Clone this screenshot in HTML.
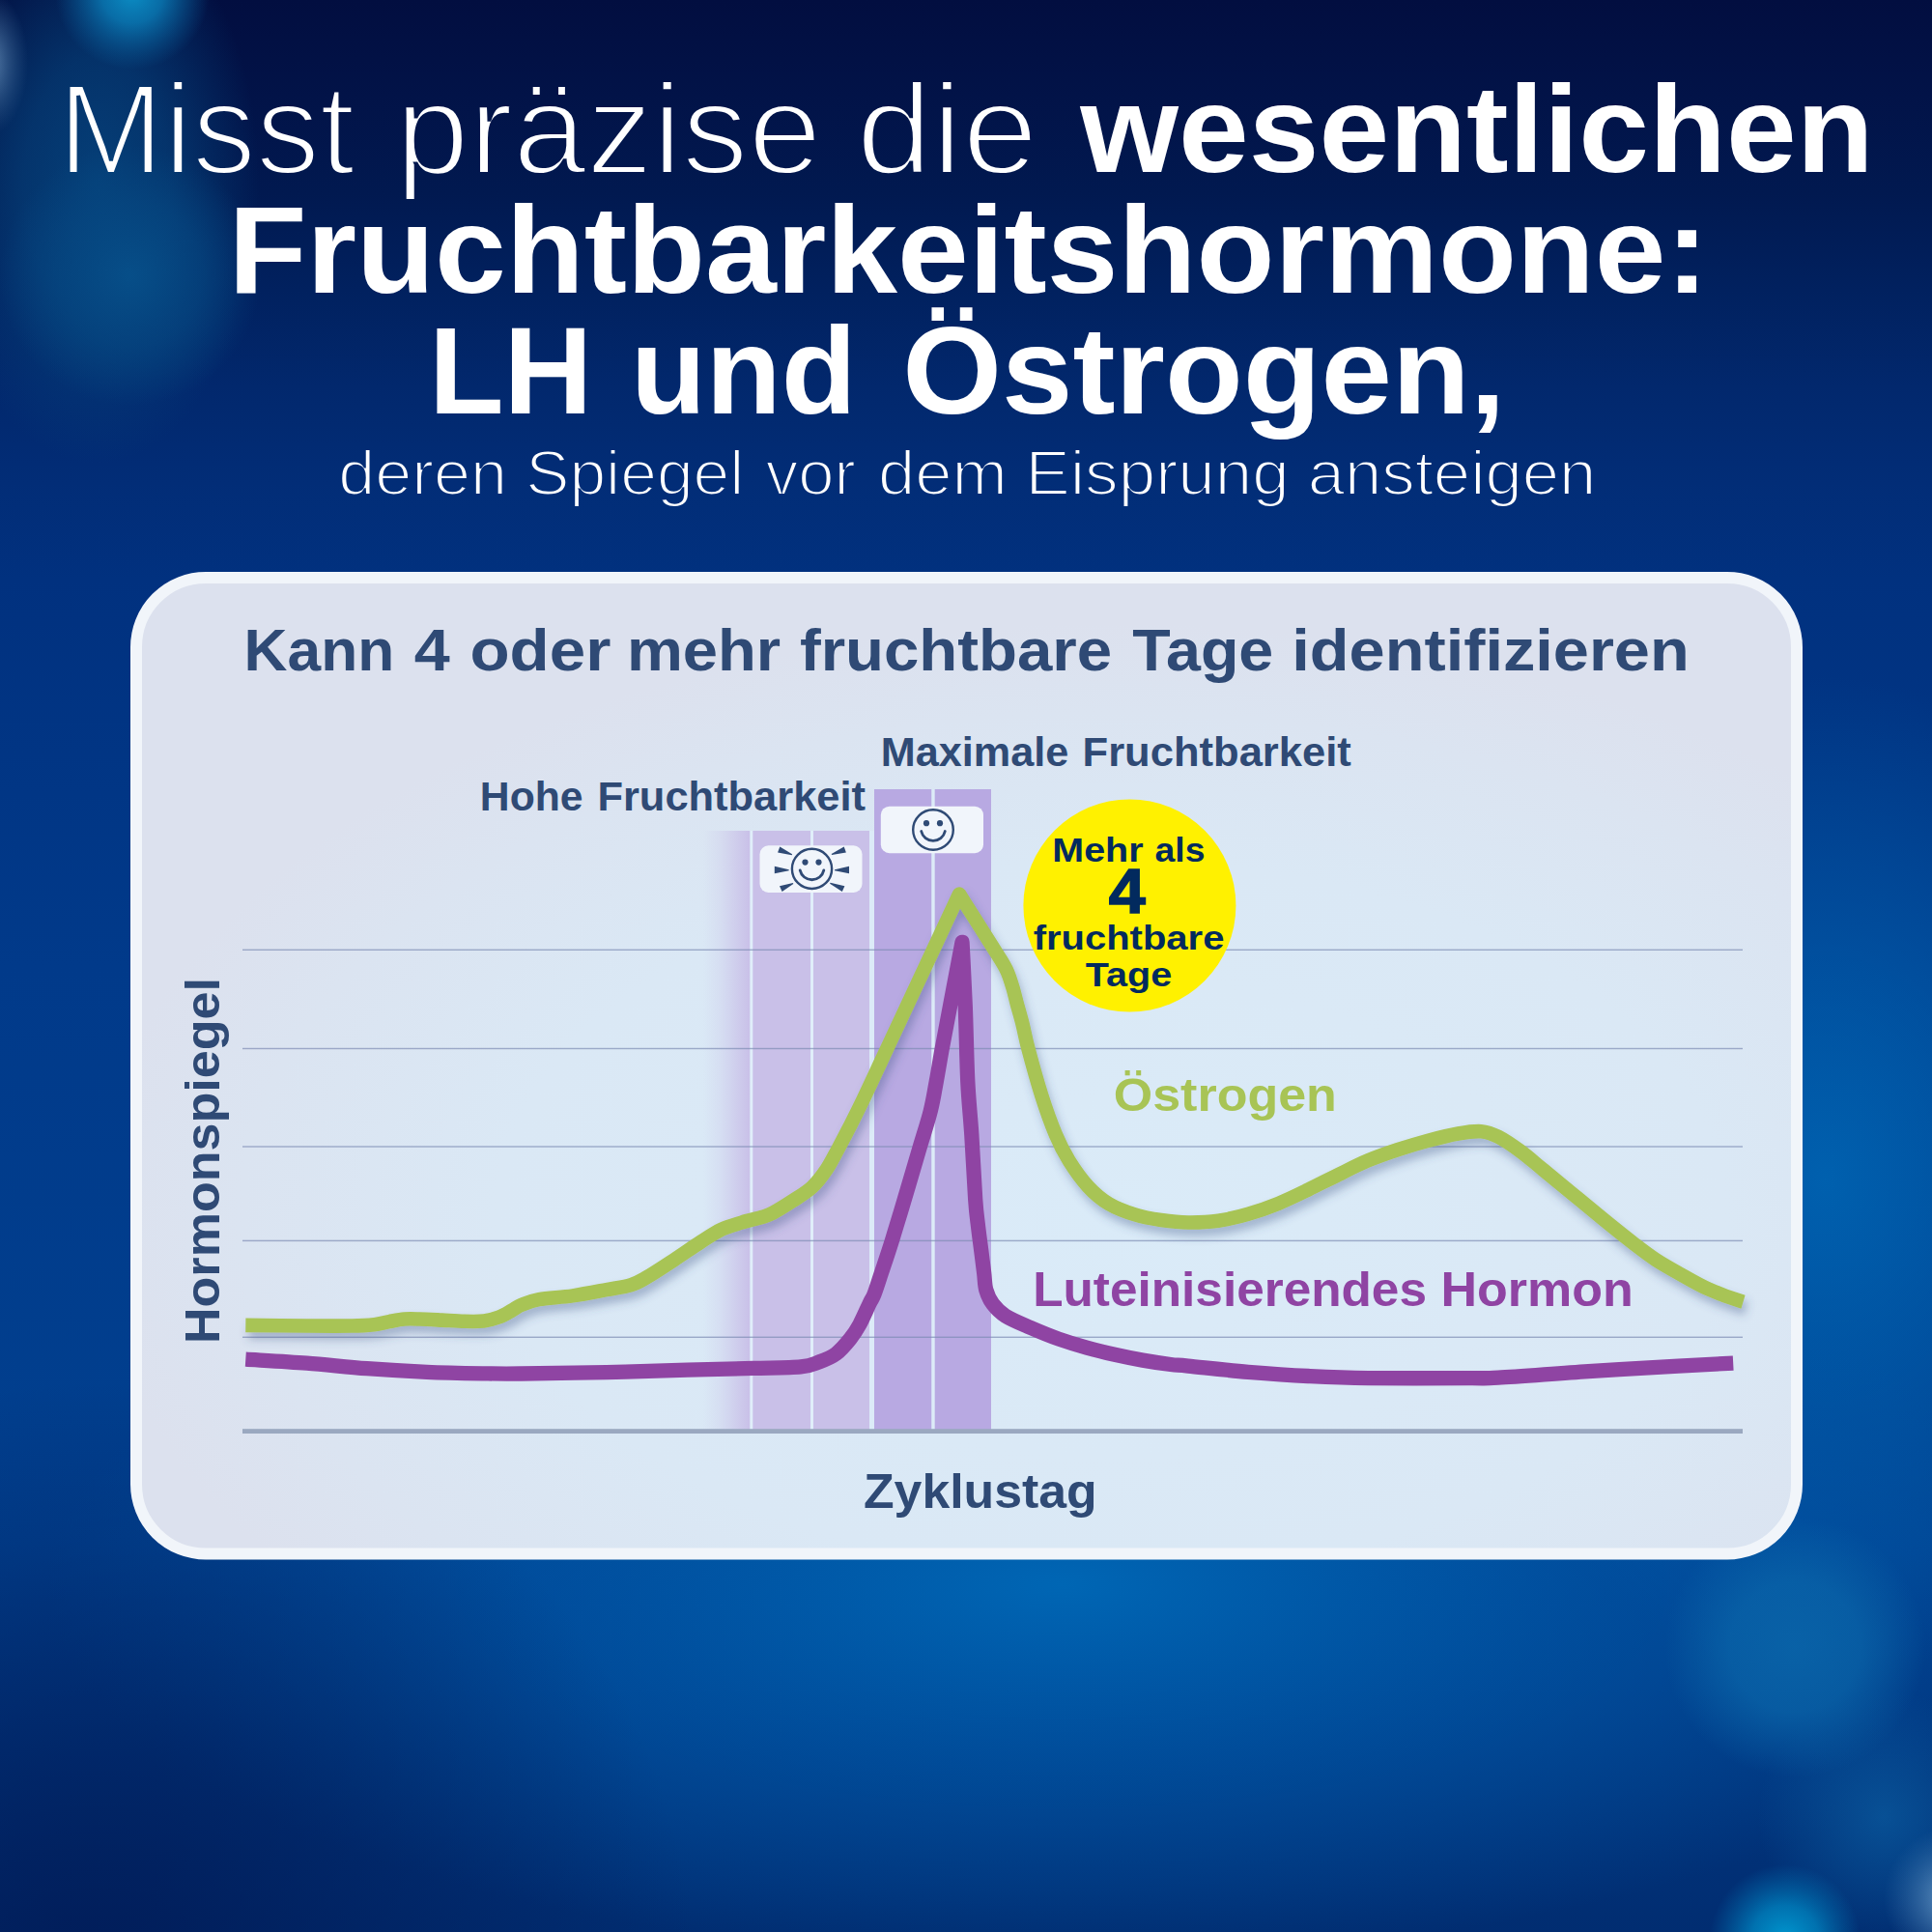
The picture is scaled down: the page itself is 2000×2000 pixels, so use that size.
<!DOCTYPE html>
<html lang="de"><head><meta charset="utf-8"><title>Fruchtbarkeitshormone</title>
<style>
html,body{margin:0;padding:0;width:2000px;height:2000px;overflow:hidden;background:#02256d;}
svg{display:block;font-family:"Liberation Sans",sans-serif;}
</style></head><body>
<svg width="2000" height="2000" viewBox="0 0 2000 2000">
<defs>

<linearGradient id="bgv" x1="0" y1="0" x2="0" y2="1">
 <stop offset="0" stop-color="#020e40"/>
 <stop offset="0.05" stop-color="#021348"/>
 <stop offset="0.10" stop-color="#011950"/>
 <stop offset="0.15" stop-color="#01215f"/>
 <stop offset="0.20" stop-color="#02286d"/>
 <stop offset="0.25" stop-color="#022d77"/>
 <stop offset="0.30" stop-color="#01317f"/>
 <stop offset="0.50" stop-color="#013a8a"/>
 <stop offset="0.80" stop-color="#01408f"/>
 <stop offset="1" stop-color="#012d71"/>
</linearGradient>
<radialGradient id="glow1" cx="1100" cy="1640" r="1050" gradientUnits="userSpaceOnUse" gradientTransform="translate(0,1640) scale(1,0.37) translate(0,-1640)">
 <stop offset="0" stop-color="#0066b4" stop-opacity="1"/>
 <stop offset="0.5" stop-color="#0058a8" stop-opacity="0.62"/>
 <stop offset="1" stop-color="#0058a8" stop-opacity="0"/>
</radialGradient>
<radialGradient id="darkbl" cx="100" cy="2050" r="620" gradientUnits="userSpaceOnUse">
 <stop offset="0" stop-color="#011a55" stop-opacity="0.85"/>
 <stop offset="1" stop-color="#011a55" stop-opacity="0"/>
</radialGradient>
<radialGradient id="rightglow" cx="1890" cy="1220" r="520" gradientUnits="userSpaceOnUse" gradientTransform="translate(1890,0) scale(0.75,1) translate(-1890,0)">
 <stop offset="0" stop-color="#0064b2" stop-opacity="0.9"/>
 <stop offset="1" stop-color="#0064b2" stop-opacity="0"/>
</radialGradient>
<radialGradient id="bk1" cx="137" cy="-8" r="80" gradientUnits="userSpaceOnUse">
 <stop offset="0" stop-color="#0b8fc6" stop-opacity="1"/>
 <stop offset="0.4" stop-color="#0a7fba" stop-opacity="0.8"/>
 <stop offset="1" stop-color="#0a6aa8" stop-opacity="0"/>
</radialGradient>
<radialGradient id="bk2" cx="135" cy="285" r="135" gradientUnits="userSpaceOnUse">
 <stop offset="0" stop-color="#07528c" stop-opacity="0.85"/>
 <stop offset="0.55" stop-color="#064a84" stop-opacity="0.6"/>
 <stop offset="1" stop-color="#064a84" stop-opacity="0"/>
</radialGradient>
<radialGradient id="bk2b" cx="100" cy="190" r="290" gradientUnits="userSpaceOnUse" gradientTransform="translate(100,0) scale(0.58,1) translate(-100,0)">
 <stop offset="0" stop-color="#06467f" stop-opacity="0.85"/>
 <stop offset="0.45" stop-color="#06467f" stop-opacity="0.62"/>
 <stop offset="1" stop-color="#06467f" stop-opacity="0"/>
</radialGradient>
<radialGradient id="bk3" cx="-12" cy="65" r="75" gradientUnits="userSpaceOnUse" gradientTransform="translate(-12,0) scale(0.55,1) translate(12,0)">
 <stop offset="0" stop-color="#6a92bc" stop-opacity="0.9"/>
 <stop offset="1" stop-color="#3a6a9a" stop-opacity="0"/>
</radialGradient>
<radialGradient id="bk4" cx="1858" cy="1705" r="135" gradientUnits="userSpaceOnUse">
 <stop offset="0" stop-color="#0a66aa" stop-opacity="0.85"/>
 <stop offset="0.5" stop-color="#0a66aa" stop-opacity="0.7"/>
 <stop offset="1" stop-color="#0a66aa" stop-opacity="0"/>
</radialGradient>
<radialGradient id="bk5" cx="1848" cy="2008" r="78" gradientUnits="userSpaceOnUse">
 <stop offset="0" stop-color="#0098d0" stop-opacity="1"/>
 <stop offset="0.45" stop-color="#0088c4" stop-opacity="0.75"/>
 <stop offset="1" stop-color="#0078b8" stop-opacity="0"/>
</radialGradient>
<radialGradient id="bk6" cx="2025" cy="1965" r="75" gradientUnits="userSpaceOnUse">
 <stop offset="0" stop-color="#7aa8d0" stop-opacity="0.95"/>
 <stop offset="1" stop-color="#3a78b0" stop-opacity="0"/>
</radialGradient>
<radialGradient id="bk7" cx="1950" cy="1880" r="130" gradientUnits="userSpaceOnUse">
 <stop offset="0" stop-color="#0a5a9e" stop-opacity="0.75"/>
 <stop offset="1" stop-color="#0a5a9e" stop-opacity="0"/>
</radialGradient>
<radialGradient id="cardg" cx="1150" cy="1260" r="1060" gradientUnits="userSpaceOnUse" gradientTransform="translate(0,1260) scale(1,0.58) translate(0,-1260)">
 <stop offset="0" stop-color="#daebf8"/>
 <stop offset="0.6" stop-color="#dae8f5"/>
 <stop offset="0.85" stop-color="#dbe4f1"/>
 <stop offset="1" stop-color="#dce1ee"/>
</radialGradient>
<linearGradient id="fade" x1="0" y1="0" x2="1" y2="0">
 <stop offset="0" stop-color="#c9c0e8" stop-opacity="0"/>
 <stop offset="0.35" stop-color="#c9c0e8" stop-opacity="0.25"/>
 <stop offset="1" stop-color="#c9c0e8" stop-opacity="1"/>
</linearGradient>
<filter id="sh" x="-5%" y="-10%" width="110%" height="125%">
 <feGaussianBlur in="SourceAlpha" stdDeviation="5"/>
 <feOffset dx="3" dy="7" result="b"/>
 <feFlood flood-color="#3d5384" flood-opacity="0.36"/>
 <feComposite in2="b" operator="in"/>
 <feMerge><feMergeNode/><feMergeNode in="SourceGraphic"/></feMerge>
</filter>
<mask id="thin1" maskUnits="userSpaceOnUse" x="0" y="0" width="2000" height="600">
 <text transform="translate(59.79,180.0) scale(0.9866,1)" font-size="133.7" font-weight="normal" fill="#fff" stroke="#000" stroke-width="4.0" vector-effect="non-scaling-stroke">Misst</text>
 <text transform="translate(409.45,180.0) scale(1.0234,1)" font-size="133.7" font-weight="normal" fill="#fff" stroke="#000" stroke-width="4.0" vector-effect="non-scaling-stroke">präzise</text>
 <text transform="translate(886.60,180.0) scale(1.0526,1)" font-size="133.7" font-weight="normal" fill="#fff" stroke="#000" stroke-width="4.0" vector-effect="non-scaling-stroke">die</text>
</mask>
<mask id="thin2" maskUnits="userSpaceOnUse" x="0" y="0" width="2000" height="600">
 <text transform="translate(350.36,511.8) scale(1.0545,1)" font-size="64.8" font-weight="normal" fill="#fff" stroke="#000" stroke-width="2.2" vector-effect="non-scaling-stroke">deren</text>
 <text transform="translate(544.18,511.8) scale(1.0464,1)" font-size="64.8" font-weight="normal" fill="#fff" stroke="#000" stroke-width="2.2" vector-effect="non-scaling-stroke">Spiegel</text>
 <text transform="translate(792.70,511.8) scale(1.0334,1)" font-size="64.8" font-weight="normal" fill="#fff" stroke="#000" stroke-width="2.2" vector-effect="non-scaling-stroke">vor</text>
 <text transform="translate(908.95,511.8) scale(1.0607,1)" font-size="64.8" font-weight="normal" fill="#fff" stroke="#000" stroke-width="2.2" vector-effect="non-scaling-stroke">dem</text>
 <text transform="translate(1061.59,511.8) scale(1.0678,1)" font-size="64.8" font-weight="normal" fill="#fff" stroke="#000" stroke-width="2.2" vector-effect="non-scaling-stroke">Eisprung</text>
 <text transform="translate(1353.65,511.8) scale(1.0633,1)" font-size="64.8" font-weight="normal" fill="#fff" stroke="#000" stroke-width="2.2" vector-effect="non-scaling-stroke">ansteigen</text>
</mask>

</defs>

<rect width="2000" height="2000" fill="url(#bgv)"/>
<rect width="2000" height="2000" fill="url(#rightglow)"/>
<rect width="2000" height="2000" fill="url(#glow1)"/>
<rect width="2000" height="2000" fill="url(#darkbl)"/>
<rect width="2000" height="2000" fill="url(#bk2b)"/>
<rect width="2000" height="2000" fill="url(#bk2)"/>
<rect width="2000" height="2000" fill="url(#bk1)"/>
<rect width="2000" height="2000" fill="url(#bk3)"/>
<rect width="2000" height="2000" fill="url(#bk7)"/>
<rect width="2000" height="2000" fill="url(#bk4)"/>
<rect width="2000" height="2000" fill="url(#bk5)"/>
<rect width="2000" height="2000" fill="url(#bk6)"/>


<rect x="0" y="0" width="2000" height="600" fill="#fff" mask="url(#thin1)"/>
<text transform="translate(1118.34,177.8) scale(1.0193,1)" font-size="128.3" font-weight="bold" fill="#fff">wesentlichen</text>
<text transform="translate(236.51,302.6) scale(1.0334,1)" font-size="128.3" font-weight="bold" fill="#fff">Fruchtbarkeitshormone:</text>
<text transform="translate(443.96,427.8) scale(0.9906,1)" font-size="128.3" font-weight="bold" fill="#fff">LH</text>
<text transform="translate(653.03,427.8) scale(0.9932,1)" font-size="128.3" font-weight="bold" fill="#fff">und</text>
<text transform="translate(934.27,427.8) scale(1.0302,1)" font-size="128.3" font-weight="bold" fill="#fff">Östrogen,</text>
<rect x="0" y="0" width="2000" height="600" fill="#fff" mask="url(#thin2)"/>


<rect x="141" y="598" width="1719" height="1010.5" rx="72" ry="72" fill="url(#cardg)" stroke="#f1f5fa" stroke-width="12"/>
<text transform="translate(252.61,694.3) scale(1.0203,1)" font-size="61.0" font-weight="bold" fill="#2f4a75">Kann</text>
<text transform="translate(428.80,694.3) scale(1.0900,1)" font-size="61.0" font-weight="bold" fill="#2f4a75">4</text>
<text transform="translate(486.50,694.3) scale(1.1034,1)" font-size="61.0" font-weight="bold" fill="#2f4a75">oder</text>
<text transform="translate(648.93,694.3) scale(1.0679,1)" font-size="61.0" font-weight="bold" fill="#2f4a75">mehr</text>
<text transform="translate(827.88,694.3) scale(1.0716,1)" font-size="61.0" font-weight="bold" fill="#2f4a75">fruchtbare</text>
<text transform="translate(1172.30,694.3) scale(1.0592,1)" font-size="61.0" font-weight="bold" fill="#2f4a75">Tage</text>
<text transform="translate(1337.33,694.3) scale(1.0935,1)" font-size="61.0" font-weight="bold" fill="#2f4a75">identifizieren</text>

<rect x="728" y="860" width="48.5" height="620" fill="url(#fade)"/><rect x="776.5" y="860" width="2.8" height="620" fill="#e0eefa"/><rect x="779.3" y="860" width="59.7" height="620" fill="#c9c0e8"/><rect x="839" y="860" width="3" height="620" fill="#e0eefa"/><rect x="842" y="860" width="58" height="620" fill="#c9c0e8"/><rect x="900" y="860" width="5" height="620" fill="#dcebf8"/><rect x="905" y="817" width="59.5" height="663" fill="#b8a9e2"/><rect x="964.5" y="817" width="3.2" height="663" fill="#dcebf8"/><rect x="967.7" y="817" width="58.3" height="663" fill="#b8a9e2"/><rect x="251" y="982.5999999999999" width="1553" height="1.4" fill="#7c8bb3" opacity="0.68"/><rect x="251" y="1084.8" width="1553" height="1.4" fill="#7c8bb3" opacity="0.68"/><rect x="251" y="1186.3" width="1553" height="1.4" fill="#7c8bb3" opacity="0.68"/><rect x="251" y="1283.7" width="1553" height="1.4" fill="#7c8bb3" opacity="0.68"/><rect x="251" y="1383.6" width="1553" height="1.4" fill="#7c8bb3" opacity="0.68"/><rect x="251" y="1479.2" width="1553" height="4.8" fill="#9aa8c0"/><rect x="786.5" y="875.3" width="106" height="48.7" rx="9" fill="#f1f5fb"/><rect x="911.8" y="834.7" width="106.2" height="48.5" rx="9" fill="#f1f5fb"/><g fill="none" stroke="#2f4a75" stroke-width="2.4" stroke-linecap="round"><circle cx="840.5" cy="899.4" r="20.6"/><path d="M828.2,900.9 A12.6,12.6 0 0 0 852.8,900.9" stroke-width="2.8"/></g><circle cx="833.5" cy="892.6" r="3.1" fill="#2f4a75"/><circle cx="847.5" cy="892.6" r="3.1" fill="#2f4a75"/><path d="M820.1,884.3 L807.3,876.6 L805.1,882.4 L819.7,885.3 Z" fill="#2f4a75"/><path d="M816.7,900.2 L801.8,896.8 L801.8,904.2 L816.7,901.2 Z" fill="#2f4a75"/><path d="M820.9,913.9 L807.0,917.3 L809.6,923.1 L821.3,914.9 Z" fill="#2f4a75"/><path d="M861.1,885.1 L875.9,882.4 L873.7,876.6 L860.7,884.1 Z" fill="#2f4a75"/><path d="M864.0,901.2 L879.0,904.2 L879.0,896.8 L864.0,900.2 Z" fill="#2f4a75"/><path d="M859.1,914.7 L871.8,923.1 L874.4,917.3 L859.5,913.7 Z" fill="#2f4a75"/><g fill="none" stroke="#2f4a75" stroke-width="2.4" stroke-linecap="round"><circle cx="966" cy="859" r="20.8"/><path d="M953.7,860.5 A12.6,12.6 0 0 0 978.3,860.5" stroke-width="2.8"/></g><circle cx="959" cy="852.2" r="3.1" fill="#2f4a75"/><circle cx="973" cy="852.2" r="3.1" fill="#2f4a75"/><text transform="translate(496.83,838.8) scale(1.0273,1)" font-size="41.6" font-weight="bold" fill="#2f4a75">Hohe</text><text transform="translate(618.38,838.8) scale(1.0451,1)" font-size="41.6" font-weight="bold" fill="#2f4a75">Fruchtbarkeit</text><text transform="translate(911.80,793.2) scale(1.0388,1)" font-size="41.6" font-weight="bold" fill="#2f4a75">Maximale</text><text transform="translate(1120.58,793.2) scale(1.0470,1)" font-size="41.6" font-weight="bold" fill="#2f4a75">Fruchtbarkeit</text><g filter="url(#sh)"><path d="M254.3,1371.9 C264.9,1372.0 299.3,1372.4 317.6,1372.5 C335.9,1372.6 352.6,1372.7 364.2,1372.5 C375.8,1372.3 381.0,1371.9 387.5,1371.2 C394.0,1370.5 397.8,1369.0 403.0,1368.1 C408.2,1367.1 413.4,1365.9 418.6,1365.5 C423.8,1365.1 427.6,1365.3 434.1,1365.5 C440.6,1365.7 449.6,1366.2 457.4,1366.6 C465.2,1367.0 473.4,1367.6 480.7,1367.8 C487.9,1368.0 494.9,1368.2 500.9,1367.5 C506.8,1366.8 511.5,1365.3 516.4,1363.5 C521.2,1361.7 526.1,1358.6 530.0,1356.5 C533.9,1354.4 535.3,1352.7 540.0,1350.8 C544.7,1348.9 549.2,1346.7 558.0,1345.1 C566.8,1343.5 581.3,1343.1 592.9,1341.4 C604.5,1339.7 617.8,1337.0 627.8,1335.1 C637.8,1333.2 646.0,1332.3 653.0,1330.2 C660.0,1328.1 662.2,1326.5 669.7,1322.2 C677.2,1317.9 688.4,1310.4 697.7,1304.3 C707.0,1298.2 717.6,1290.7 725.7,1285.5 C733.9,1280.3 739.6,1276.2 746.6,1272.9 C753.6,1269.6 760.6,1267.8 767.6,1265.6 C774.6,1263.4 783.1,1261.7 788.5,1260.0 C793.9,1258.3 794.9,1258.3 800.2,1255.5 C805.5,1252.7 813.7,1247.6 820.4,1243.2 C827.1,1238.8 834.8,1234.4 840.6,1229.0 C846.4,1223.6 850.9,1217.5 855.4,1210.9 C859.9,1204.3 863.2,1197.2 867.5,1189.4 C871.8,1181.6 876.4,1172.5 880.9,1163.8 C885.4,1155.0 889.9,1145.9 894.2,1136.9 C898.5,1127.9 902.6,1119.0 906.8,1110.0 C911.0,1101.0 913.9,1094.7 919.4,1083.0 C924.9,1071.3 931.7,1056.6 939.5,1040.0 C947.3,1023.4 957.1,1002.4 966.0,983.3 C974.9,964.2 984.0,944.8 993.0,925.5 C998.7,934.5 1004.7,943.9 1010.0,952.4 C1015.3,960.9 1020.7,969.3 1025.0,976.2 C1029.3,983.1 1033.0,988.6 1036.0,993.6 C1039.0,998.6 1041.0,1001.8 1043.0,1006.5 C1045.0,1011.2 1046.6,1016.4 1048.3,1022.0 C1050.0,1027.6 1051.3,1033.7 1053.0,1040.0 C1054.7,1046.3 1056.6,1052.4 1058.5,1060.0 C1060.4,1067.6 1061.2,1073.4 1064.5,1085.8 C1067.8,1098.2 1073.6,1119.4 1078.3,1134.2 C1083.0,1149.0 1088.2,1163.4 1092.9,1174.6 C1097.6,1185.8 1101.0,1192.5 1106.6,1201.5 C1112.2,1210.5 1119.6,1221.0 1126.5,1228.4 C1133.4,1235.9 1139.9,1241.4 1148.0,1246.2 C1156.1,1251.0 1166.0,1254.6 1175.0,1257.4 C1184.0,1260.2 1192.7,1261.7 1201.9,1263.0 C1211.1,1264.3 1220.1,1265.4 1230.0,1265.5 C1239.9,1265.6 1250.8,1265.2 1261.1,1263.8 C1271.4,1262.3 1281.8,1259.8 1292.1,1256.8 C1302.4,1253.8 1312.8,1250.1 1323.2,1245.9 C1333.6,1241.7 1343.9,1236.6 1354.2,1231.6 C1364.5,1226.6 1375.0,1221.1 1385.3,1216.1 C1395.6,1211.0 1405.9,1205.6 1416.3,1201.3 C1426.7,1197.0 1437.1,1193.4 1447.4,1190.0 C1457.8,1186.6 1468.1,1183.5 1478.4,1180.7 C1488.8,1178.0 1500.4,1175.1 1509.5,1173.5 C1518.6,1171.9 1526.3,1170.7 1533.2,1171.2 C1540.1,1171.8 1544.2,1173.3 1551.0,1176.8 C1557.8,1180.3 1566.5,1186.3 1574.3,1192.0 C1582.1,1197.7 1588.5,1203.6 1597.6,1211.0 C1606.7,1218.4 1618.3,1228.1 1628.7,1236.6 C1639.1,1245.1 1649.4,1253.8 1659.7,1262.2 C1670.0,1270.6 1681.7,1280.0 1690.8,1287.0 C1699.9,1294.0 1706.3,1299.0 1714.1,1304.1 C1721.9,1309.2 1728.4,1312.8 1737.4,1317.8 C1746.5,1322.8 1757.2,1329.4 1768.4,1334.4 C1779.6,1339.4 1793.5,1344.5 1804.5,1347.8" fill="none" stroke="#a8c455" stroke-width="14.6" stroke-linejoin="round"/></g><path d="M254.3,1407.1 C264.9,1407.8 296.7,1409.5 317.6,1411.1 C338.5,1412.7 359.1,1415.2 379.8,1416.7 C400.5,1418.2 421.2,1419.4 441.9,1420.3 C462.6,1421.2 487.6,1421.6 504.0,1421.9 C520.4,1422.2 519.4,1422.2 540.0,1422.0 C560.6,1421.8 599.2,1421.2 627.8,1420.6 C656.4,1419.9 686.3,1418.8 711.7,1418.1 C737.1,1417.4 760.5,1416.9 780.0,1416.4 C799.5,1415.9 817.6,1416.0 829.0,1414.9 C840.4,1413.8 842.2,1412.0 848.3,1409.8 C854.4,1407.6 860.1,1405.5 865.4,1401.5 C870.7,1397.5 876.1,1391.0 880.2,1385.9 C884.3,1380.8 886.5,1377.2 889.9,1371.1 C893.2,1364.9 897.8,1354.2 900.3,1349.0 C902.8,1343.8 902.8,1345.3 904.9,1340.0 C907.0,1334.7 909.5,1326.5 912.6,1317.2 C915.7,1307.9 918.8,1299.0 923.4,1284.2 C928.0,1269.5 935.3,1244.9 940.1,1228.7 C944.9,1212.5 948.5,1200.0 952.4,1186.9 C956.3,1173.8 960.5,1161.2 963.3,1150.0 C966.1,1138.8 967.2,1130.7 969.2,1120.0 C971.2,1109.3 972.8,1098.9 975.2,1085.6 C977.6,1072.3 980.3,1058.4 983.8,1040.0 C987.3,1021.6 991.9,996.9 996.0,975.3 C997.1,996.9 998.2,1015.9 999.2,1040.0 C1000.2,1064.1 1000.7,1097.6 1001.8,1120.0 C1002.9,1142.4 1004.5,1154.3 1005.8,1174.6 C1007.1,1194.9 1008.6,1226.0 1009.7,1241.9 C1010.8,1257.8 1011.6,1261.2 1012.6,1270.0 C1013.6,1278.8 1014.8,1287.0 1015.8,1295.0 C1016.8,1303.0 1017.9,1311.3 1018.7,1318.0 C1019.5,1324.7 1019.3,1330.1 1020.8,1335.4 C1022.3,1340.7 1024.4,1345.4 1027.8,1349.9 C1031.2,1354.4 1034.4,1358.1 1040.9,1362.2 C1047.4,1366.3 1057.8,1370.5 1067.0,1374.5 C1076.2,1378.5 1086.3,1382.7 1096.0,1386.1 C1105.7,1389.5 1115.3,1392.4 1125.0,1395.1 C1134.7,1397.8 1144.2,1400.1 1153.9,1402.3 C1163.6,1404.5 1173.2,1406.4 1182.9,1408.1 C1192.6,1409.8 1204.1,1411.5 1211.9,1412.5 C1219.8,1413.5 1216.6,1412.8 1230.0,1414.1 C1243.4,1415.4 1271.4,1418.6 1292.1,1420.3 C1312.8,1422.0 1333.5,1423.5 1354.2,1424.5 C1374.9,1425.5 1388.7,1426.2 1416.3,1426.6 C1443.9,1426.9 1497.5,1426.7 1520.0,1426.6 C1542.5,1426.5 1530.3,1427.3 1551.0,1426.2 C1571.7,1425.1 1613.1,1421.7 1644.2,1419.7 C1675.3,1417.7 1712.4,1415.5 1737.4,1414.1 C1762.4,1412.7 1779.7,1411.8 1794.2,1411.1" fill="none" stroke="#8f44a3" stroke-width="15.3" stroke-linejoin="round"/><circle cx="1169.4" cy="937.5" r="110" fill="#fff100"/><text transform="translate(1089.34,891.7) scale(1.1016,1)" font-size="35.8" font-weight="bold" fill="#022a5e">Mehr</text><text transform="translate(1195.52,891.7) scale(1.0428,1)" font-size="35.8" font-weight="bold" fill="#022a5e">als</text><text transform="translate(1147.80,944.5) scale(1.0628,1)" font-size="64.4" font-weight="bold" fill="#022a5e" stroke="#022a5e" stroke-width="1.5" stroke-linejoin="miter" vector-effect="non-scaling-stroke">4</text><text transform="translate(1069.67,982.7) scale(1.1174,1)" font-size="35.8" font-weight="bold" fill="#022a5e">fruchtbare</text><text transform="translate(1123.80,1020.6) scale(1.1061,1)" font-size="35.8" font-weight="bold" fill="#022a5e">Tage</text><text transform="translate(1152.77,1149.7) scale(1.0656,1)" font-size="48.8" font-weight="bold" fill="#a8c455">Östrogen</text><text transform="translate(1069.19,1352) scale(1.0204,1)" font-size="50.3" font-weight="bold" fill="#8f44a3">Luteinisierendes</text><text transform="translate(1491.45,1352) scale(1.0340,1)" font-size="50.3" font-weight="bold" fill="#8f44a3">Hormon</text><text transform="translate(893.99,1560.6) scale(1.0340,1)" font-size="50.1" font-weight="bold" fill="#2f4a75">Zyklustag</text><g transform="translate(226.7,0) rotate(-90)"><text transform="translate(-1391.06,0) scale(1.0397,1)" font-size="50.1" font-weight="bold" fill="#2f4a75">Hormonspiegel</text></g>
</svg>
</body></html>
